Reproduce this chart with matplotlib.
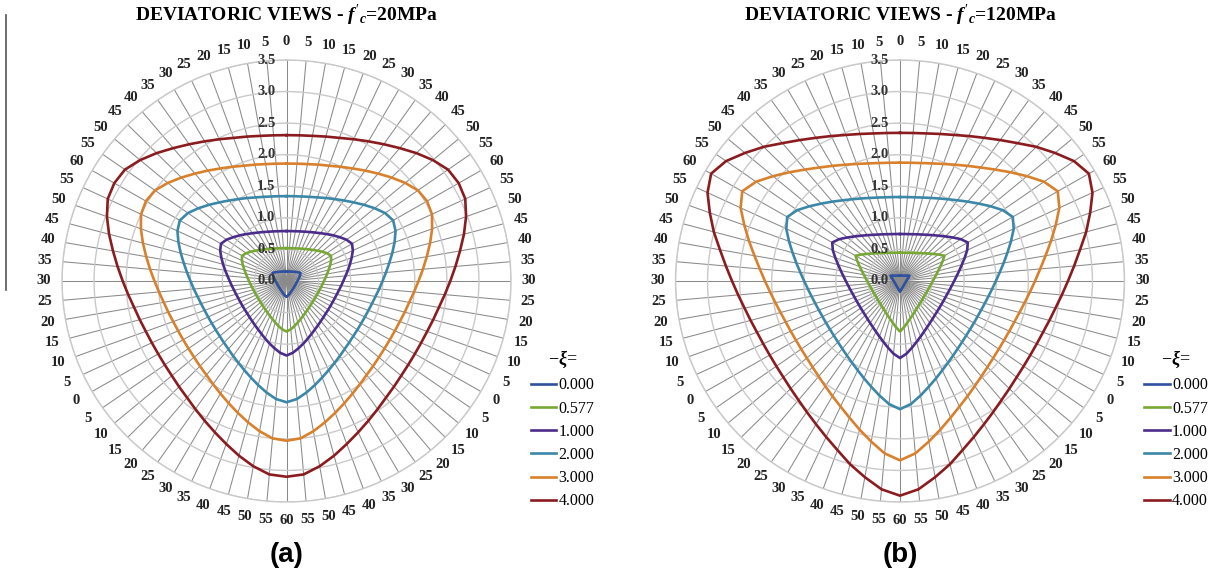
import numpy as np
import matplotlib.pyplot as plt
from matplotlib.lines import Line2D

plt.rcParams['font.family'] = ['Liberation Serif', 'DejaVu Serif']
plt.rcParams['mathtext.fontset'] = 'custom'
plt.rcParams['mathtext.rm'] = 'Liberation Serif'
plt.rcParams['mathtext.it'] = 'Liberation Serif:italic:bold'
plt.rcParams['mathtext.bf'] = 'Liberation Serif:bold'

# Lode angle (deg) of the tabulated radii: 0 = tensile meridian, 60 = compressive meridian
lode_deg = [0, 5, 10, 15, 20, 25, 30, 35, 40, 45, 50, 55, 60]

xi_labels = ['0.000', '0.577', '1.000', '2.000', '3.000', '4.000']
xi_colors = ['#2f4f9f', '#78a834', '#4b2c8a', '#3b87a8', '#d8802c', '#8a1c1f']

# deviatoric radius vs Lode angle, f'c = 20 MPa
r20_xi0 = [0.150, 0.151, 0.152, 0.155, 0.159, 0.164, 0.171, 0.179, 0.190, 0.203, 0.218, 0.236, 0.250]
r20_xi0577 = [0.520, 0.522, 0.526, 0.535, 0.548, 0.564, 0.585, 0.611, 0.642, 0.680, 0.723, 0.768, 0.800]
r20_xi1 = [0.791, 0.793, 0.800, 0.813, 0.831, 0.856, 0.886, 0.924, 0.971, 1.024, 1.081, 1.141, 1.180]
r20_xi2 = [1.344, 1.348, 1.359, 1.380, 1.409, 1.450, 1.498, 1.557, 1.626, 1.707, 1.793, 1.876, 1.920]
r20_xi3 = [1.860, 1.865, 1.880, 1.908, 1.943, 1.996, 2.059, 2.135, 2.221, 2.317, 2.416, 2.502, 2.530]
r20_xi4 = [2.310, 2.316, 2.334, 2.368, 2.412, 2.477, 2.554, 2.644, 2.747, 2.864, 2.979, 3.075, 3.100]

# deviatoric radius vs Lode angle, f'c = 120 MPa
r120_xi0 = [0.085, 0.085, 0.086, 0.088, 0.090, 0.094, 0.098, 0.104, 0.111, 0.120, 0.132, 0.148, 0.170]
r120_xi0577 = [0.448, 0.450, 0.454, 0.463, 0.475, 0.492, 0.512, 0.539, 0.573, 0.616, 0.668, 0.732, 0.800]
r120_xi1 = [0.744, 0.747, 0.754, 0.767, 0.787, 0.812, 0.845, 0.886, 0.937, 0.999, 1.073, 1.156, 1.220]
r120_xi2 = [1.330, 1.334, 1.346, 1.368, 1.400, 1.442, 1.495, 1.560, 1.641, 1.734, 1.842, 1.956, 2.030]
r120_xi3 = [1.874, 1.880, 1.897, 1.928, 1.973, 2.032, 2.106, 2.194, 2.304, 2.436, 2.583, 2.741, 2.840]
r120_xi4 = [2.346, 2.353, 2.373, 2.411, 2.462, 2.533, 2.619, 2.725, 2.850, 3.005, 3.155, 3.311, 3.400]

r_ticks = [0.0, 0.5, 1.0, 1.5, 2.0, 2.5, 3.0, 3.5]

W, H = 1218, 581
fig = plt.figure(figsize=(W / 100, H / 100), dpi=100)

# one spoke every 5 deg, Lode angle repeats every 120 deg (threefold symmetry)
spoke_deg = np.arange(0, 360, 5)
m = spoke_deg % 120
spoke_lode = np.where(m <= 60, m, 120 - m)
spoke_idx = spoke_lode // 5


def draw_panel(cx, title, tag, sections):
    rx, ry = 224.5, 221.0
    cy = 281.0
    ax = fig.add_axes([(cx - rx) / W, 1 - (cy + ry) / H, 2 * rx / W, 2 * ry / H],
                      projection='polar')
    ax.set_aspect('auto')
    ax.set_theta_zero_location('N')
    ax.set_theta_direction(-1)
    ax.set_ylim(0, 3.5)

    ax.set_thetagrids(spoke_deg, [str(v) for v in spoke_lode],
                      fontsize=10.5, fontweight='bold', color='#222222')
    ax.tick_params(axis='x', pad=2.5)
    ax.set_yticks(r_ticks[1:])
    ax.set_yticklabels([])
    ax.xaxis.grid(True, color='#8a8a8a', lw=0.75)
    ax.yaxis.grid(True, color='#c9c9c9', lw=1.0)
    ax.spines['polar'].set_color('#c9c9c9')
    ax.spines['polar'].set_linewidth(1.0)

    th = np.deg2rad(np.append(spoke_deg, 360))
    for vals, lab, col in zip(sections, xi_labels, xi_colors):
        r = np.asarray(vals)[spoke_idx]
        r = np.append(r, r[0])
        ax.plot(th, r, color=col, lw=1.9, label=lab, zorder=3)

    for v in r_ticks:
        ax.annotate(f'{v:.1f}', xy=(0, v), xytext=(-11, 0), textcoords='offset pixels',
                    ha='right', va='center', fontsize=10.5, fontweight='bold',
                    color='#333333', zorder=4)

    fig.text(cx / W, 1 - 15 / H, title, ha='center', va='center',
             fontsize=14, fontweight='bold')
    fig.text(cx / W, 1 - 555 / H, tag, ha='center', va='center',
             fontsize=20, fontweight='bold', family='Liberation Sans')

    leg = fig.legend(handles=ax.get_lines(), loc='upper left',
                     bbox_to_anchor=((cx + 244) / W, 1 - 349 / H),
                     frameon=False, fontsize=11.5, title=r'$-\xi$=',
                     title_fontsize=13, handlelength=1.6, handletextpad=0.15,
                     labelspacing=0.45, borderpad=0, borderaxespad=0)
    leg._legend_box.align = 'center'
    return ax


draw_panel(286.5, r"DEVIATORIC VIEWS - $f'_c$=20MPa", '(a)',
           [r20_xi0, r20_xi0577, r20_xi1, r20_xi2, r20_xi3, r20_xi4])
draw_panel(900.0, r"DEVIATORIC VIEWS - $f'_c$=120MPa", '(b)',
           [r120_xi0, r120_xi0577, r120_xi1, r120_xi2, r120_xi3, r120_xi4])

# thin rule at the left edge
fig.add_artist(Line2D([6 / W, 6 / W], [1 - 15 / H, 1 - 290 / H], color='#555555', lw=1.2))

fig.savefig('out.png', dpi=100)
